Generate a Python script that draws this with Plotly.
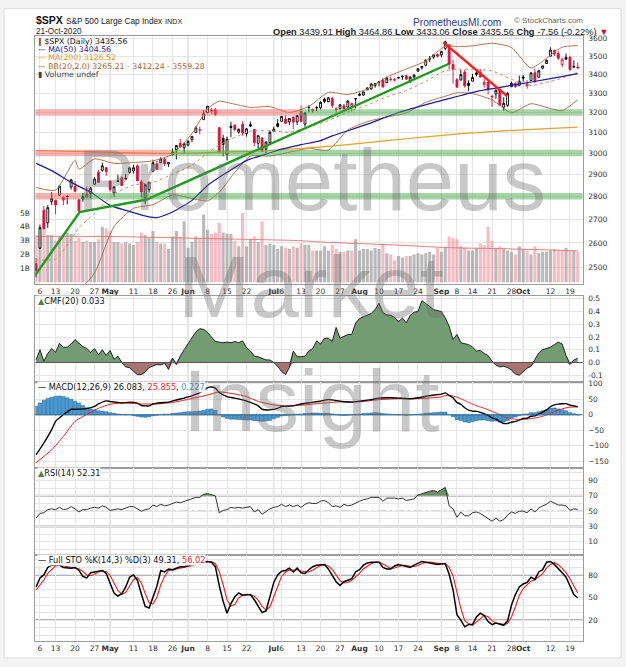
import datetime
import plotly.graph_objects as go

# ------------------------------------------------------------------ data
apr = [3, 6, 7, 8, 9, 13, 14, 15, 16, 17, 20, 21, 22, 23, 24, 27, 28, 29, 30]
may = [1, 4, 5, 6, 7, 8, 11, 12, 13, 14, 15, 18, 19, 20, 21, 22, 26, 27, 28, 29]
jun = [1, 2, 3, 4, 5, 8, 9, 10, 11, 12, 15, 16, 17, 18, 19, 22, 23, 24, 25, 26, 29, 30]
jul = [1, 2, 6, 7, 8, 9, 10, 13, 14, 15, 16, 17, 20, 21, 22, 23, 24, 27, 28, 29, 30, 31]
aug = [3, 4, 5, 6, 7, 10, 11, 12, 13, 14, 17, 18, 19, 20, 21, 24, 25, 26, 27, 28, 31]
sep = [1, 2, 3, 4, 8, 9, 10, 11, 14, 15, 16, 17, 18, 21, 22, 23, 24, 25, 28, 29, 30]
octo = [1, 2, 5, 6, 7, 8, 9, 12, 13, 14, 15, 16, 19, 20, 21]
dates = ([f"2020-04-{d:02d}" for d in apr] + [f"2020-05-{d:02d}" for d in may] +
         [f"2020-06-{d:02d}" for d in jun] + [f"2020-07-{d:02d}" for d in jul] +
         [f"2020-08-{d:02d}" for d in aug] + [f"2020-09-{d:02d}" for d in sep] +
         [f"2020-10-{d:02d}" for d in octo])

prev_close = 2526.90

opens = [2514.92, 2578.28, 2738.65, 2685.00, 2776.99, 2782.46, 2805.10, 2795.64, 2799.34, 2842.43, 2845.62, 2784.81, 2787.89, 2810.42, 2812.64, 2854.65, 2909.96, 2918.46, 2930.91,
         2869.09, 2815.01, 2868.88, 2883.14, 2878.26, 2908.83, 2915.46, 2939.50, 2865.86, 2794.54, 2829.95, 2913.86, 2948.59, 2953.63, 2969.95, 2948.05, 3004.08, 3015.65, 3046.61, 3025.17,
         3038.78, 3064.78, 3098.90, 3111.56, 3163.84, 3199.92, 3213.32, 3213.42, 3123.53, 3071.04, 2993.76, 3131.00, 3136.13, 3101.64, 3140.29, 3094.42, 3138.70, 3114.40, 3046.60, 3073.20, 3018.59, 3050.20,
         3105.92, 3143.64, 3155.29, 3166.44, 3153.07, 3176.17, 3152.47, 3205.08, 3141.11, 3225.98, 3208.36, 3224.21, 3224.29, 3268.52, 3254.86, 3271.64, 3218.58, 3219.84, 3234.27, 3227.22, 3231.76, 3270.45,
         3288.26, 3289.92, 3317.37, 3323.17, 3340.05, 3356.04, 3370.34, 3355.46, 3372.95, 3368.66, 3380.86, 3387.04, 3392.51, 3360.48, 3386.01, 3418.09, 3435.95, 3449.97, 3485.14, 3494.69, 3509.73,
         3507.44, 3543.76, 3564.74, 3453.60, 3371.88, 3369.82, 3412.56, 3352.70, 3363.56, 3407.73, 3411.23, 3346.86, 3357.38, 3285.57, 3295.75, 3320.11, 3226.14, 3236.66, 3333.90, 3350.92, 3341.21,
         3385.87, 3338.94, 3367.27, 3408.74, 3384.56, 3434.28, 3459.67, 3500.02, 3534.01, 3515.47, 3453.72, 3493.50, 3493.66, 3439.38, 3439.91]
highs = [2538.18, 2676.85, 2756.89, 2760.75, 2818.57, 2782.46, 2851.85, 2801.88, 2806.51, 2879.22, 2868.98, 2785.54, 2815.10, 2844.90, 2842.71, 2887.72, 2921.15, 2954.86, 2930.91,
         2869.09, 2844.24, 2898.23, 2891.11, 2901.92, 2932.16, 2944.25, 2945.82, 2874.14, 2852.80, 2865.01, 2968.09, 2964.21, 2980.29, 2978.50, 2956.76, 3021.72, 3036.25, 3068.67, 3049.17,
         3062.18, 3081.07, 3130.94, 3128.91, 3211.72, 3233.13, 3222.71, 3223.27, 3123.53, 3088.42, 3079.76, 3153.45, 3141.16, 3120.00, 3155.53, 3120.92, 3154.90, 3115.01, 3086.25, 3073.73, 3053.89, 3111.51,
         3128.44, 3165.81, 3182.59, 3184.15, 3171.80, 3179.78, 3186.82, 3235.32, 3200.95, 3238.28, 3220.39, 3233.52, 3258.61, 3277.29, 3279.32, 3279.99, 3227.26, 3241.43, 3243.72, 3264.74, 3250.92, 3272.17,
         3302.73, 3306.84, 3330.77, 3351.03, 3352.54, 3363.29, 3381.01, 3387.89, 3387.24, 3378.51, 3387.59, 3395.06, 3399.54, 3390.80, 3399.96, 3432.09, 3444.21, 3481.07, 3501.38, 3509.23, 3514.77,
         3528.03, 3588.11, 3564.85, 3479.15, 3379.97, 3424.77, 3425.55, 3368.95, 3402.93, 3419.48, 3428.92, 3375.17, 3362.27, 3285.57, 3320.31, 3323.35, 3278.70, 3306.88, 3360.74, 3357.92, 3393.56,
         3397.18, 3369.10, 3409.57, 3431.56, 3426.26, 3447.28, 3482.34, 3549.85, 3534.01, 3527.94, 3489.08, 3515.76, 3502.42, 3476.93, 3464.86]
lows = [2459.96, 2574.57, 2657.67, 2663.30, 2762.36, 2721.17, 2805.10, 2761.54, 2764.32, 2830.88, 2820.43, 2727.10, 2775.95, 2794.26, 2791.76, 2852.89, 2860.71, 2912.16, 2892.47,
        2821.61, 2797.85, 2863.55, 2847.65, 2876.48, 2902.88, 2903.44, 2869.59, 2793.15, 2766.64, 2816.78, 2913.86, 2922.35, 2953.63, 2938.57, 2933.59, 2988.17, 2969.75, 3023.40, 2998.61,
        3031.54, 3051.64, 3098.90, 3090.41, 3163.84, 3196.00, 3193.11, 3181.49, 2999.49, 2984.47, 2965.66, 3076.06, 3108.03, 3093.51, 3083.11, 3079.39, 3127.12, 3032.13, 3024.01, 3004.63, 2999.74, 3047.83,
        3101.17, 3124.52, 3155.29, 3142.93, 3136.53, 3115.70, 3136.22, 3149.43, 3127.66, 3200.76, 3198.59, 3205.65, 3215.16, 3247.77, 3253.10, 3222.66, 3200.05, 3214.25, 3216.17, 3227.22, 3204.13, 3220.26,
        3284.53, 3286.37, 3317.37, 3318.14, 3328.72, 3335.44, 3326.44, 3355.46, 3363.35, 3361.64, 3379.22, 3370.15, 3369.66, 3354.69, 3379.31, 3413.13, 3425.84, 3444.15, 3468.35, 3484.32, 3493.25,
        3494.60, 3535.23, 3427.41, 3349.63, 3329.27, 3366.84, 3329.25, 3310.47, 3363.56, 3389.25, 3384.45, 3328.82, 3292.40, 3229.10, 3270.95, 3232.57, 3209.45, 3228.44, 3332.91, 3327.54, 3340.47,
        3361.39, 3323.69, 3367.27, 3354.54, 3384.56, 3428.15, 3458.07, 3499.61, 3500.86, 3480.55, 3440.89, 3480.45, 3419.93, 3435.65, 3433.06]
closes = [2488.65, 2663.68, 2659.41, 2749.98, 2789.82, 2761.63, 2846.06, 2783.36, 2799.55, 2874.56, 2823.16, 2736.56, 2799.31, 2797.80, 2836.74, 2878.48, 2863.39, 2939.51, 2912.43,
          2830.71, 2842.74, 2868.44, 2848.42, 2881.19, 2929.80, 2930.32, 2870.12, 2820.00, 2852.50, 2863.70, 2953.91, 2922.94, 2971.61, 2948.51, 2955.45, 2991.77, 3036.13, 3029.73, 3044.31,
          3055.73, 3080.82, 3122.87, 3112.35, 3193.93, 3232.39, 3207.18, 3190.14, 3002.10, 3041.31, 3066.59, 3124.74, 3113.49, 3115.34, 3097.74, 3117.86, 3131.29, 3050.33, 3083.76, 3009.05, 3053.24, 3100.29,
          3115.86, 3130.01, 3179.72, 3145.32, 3169.94, 3152.05, 3185.04, 3155.22, 3197.52, 3226.56, 3215.57, 3224.73, 3251.84, 3257.30, 3276.02, 3235.66, 3215.63, 3239.41, 3218.44, 3258.44, 3246.22, 3271.12,
          3294.61, 3306.51, 3327.77, 3349.16, 3351.28, 3360.47, 3333.69, 3380.35, 3373.43, 3372.85, 3381.99, 3389.78, 3374.85, 3385.51, 3397.16, 3431.28, 3443.62, 3478.73, 3484.55, 3508.01, 3500.31,
          3526.65, 3580.84, 3455.06, 3426.96, 3331.84, 3398.96, 3339.19, 3340.97, 3383.54, 3401.20, 3385.49, 3357.01, 3319.47, 3281.06, 3315.57, 3236.92, 3246.59, 3298.46, 3351.60, 3335.47, 3363.00,
          3380.80, 3348.42, 3408.60, 3360.97, 3419.44, 3446.83, 3477.14, 3534.22, 3511.93, 3488.67, 3483.34, 3483.81, 3426.92, 3443.12, 3435.56]

# volume, billions
volume = [3.4, 3.3, 4.3, 3.4, 3.4, 3.0, 3.3, 3.3, 3.6, 3.5, 3.0, 3.2, 2.9, 3.0, 2.9, 2.9, 3.1, 4.0, 3.9, 3.7,
          2.9, 2.9, 2.8, 2.9, 2.8, 2.7, 2.9, 3.6, 3.4, 3.2, 3.7, 2.9, 2.8, 2.8, 2.4, 3.3, 3.7, 3.3, 4.4, 2.5,
          2.9, 3.3, 3.2, 4.9, 3.8, 3.5, 3.6, 4.3, 3.6, 3.5, 3.5, 3.0, 2.6, 5.0, 2.6, 3.1, 3.3, 2.9, 4.4, 2.7,
          2.8, 2.7, 2.4, 2.6, 2.5, 2.4, 2.6, 2.5, 2.8, 2.7, 2.7, 2.3, 2.3, 2.3, 2.6, 2.3, 2.7, 2.4, 2.2, 2.2,
          2.3, 2.3, 3.1, 2.3, 2.4, 2.4, 2.3, 2.5, 2.4, 2.7, 2.1, 2.0, 1.6, 1.9, 1.8, 1.9, 1.9, 2.0, 2.1, 2.0,
          2.1, 2.2, 2.0, 2.5, 2.2, 2.5, 3.3, 3.2, 3.1, 2.6, 2.5, 2.3, 2.3, 2.5, 2.8, 2.7, 4.0, 3.0, 2.5, 2.6,
          2.5, 2.3, 2.2, 2.0, 2.6, 2.4, 2.3, 2.0, 2.6, 2.1, 2.2, 2.2, 2.3, 2.4, 2.3, 2.3, 2.5, 2.3, 2.3, 2.2]
vma_days = [0, 20, 45, 68, 73, 93, 106, 119, 139]
vma_vals = [3.32, 3.30, 3.15, 3.00, 2.91, 2.68, 2.50, 2.43, 2.27]

ma50_days = [0, 4, 9, 14, 19, 23, 29, 31, 35, 40, 44, 49, 54, 59, 63, 68, 73, 76, 85, 93, 102, 109, 114, 123, 132, 139]
ma50_vals = [2951, 2917, 2863, 2819, 2760, 2738, 2710, 2707, 2731, 2782, 2849, 2909, 2964, 2995, 3019, 3040,
             3060, 3083, 3141, 3200, 3251, 3288, 3313, 3345, 3377, 3404.56]
ma200_days = [0, 20, 35, 50, 60, 70, 80, 90, 100, 110, 120, 130, 139]
ma200_vals = [3012, 3003, 2998, 3005, 3012, 3025, 3040, 3060, 3078, 3095, 3108, 3118, 3126.52]

bb_days = [0, 5, 10, 11, 15, 20, 25, 30, 35, 40, 44, 47, 50, 55, 60, 65, 70, 75, 80, 85, 90, 95, 100, 105, 108, 112, 117, 122, 127, 132, 135, 139]
bb_upper = [2840, 2828, 2965, 2924, 2972, 2951, 2955, 2963, 2994, 3095, 3219, 3258, 3247, 3226, 3230, 3200,
            3231, 3304, 3293, 3322, 3385, 3430, 3473, 3556, 3554, 3558, 3573, 3549, 3435, 3506, 3551, 3559.28]
bb_mid = [2531, 2534, 2639, 2664, 2725, 2810, 2851, 2863, 2900, 2943, 3000, 3038, 3067, 3106, 3108, 3102,
          3127, 3159, 3203, 3238, 3281, 3314, 3363, 3420, 3428, 3428, 3419, 3374, 3341, 3363, 3380, 3412.24]
bb_lower = [2222, 2240, 2313, 2404, 2478, 2668, 2747, 2763, 2806, 2791, 2780, 2818, 2887, 2986, 2986, 3004,
            3022, 3014, 3112, 3154, 3177, 3198, 3252, 3284, 3302, 3298, 3265, 3199, 3245, 3220, 3209, 3265.21]

# drawn annotations on the price panel
band_levels = [3200, 3000, 2800]
band_switch_day = [67.7, 34.4, 11.3]       # red segment up to here, green after
green_trend_days = [-0.8, 11.2, 28.4, 105.8]
green_trend_prices = [2457, 2731, 2786, 3457]
red_trend_days = [104.5, 120.8]
red_trend_prices = [3578, 3286]

cmf = [0.02, 0.10, 0.01, 0.07, 0.11, 0.08, 0.15, 0.12, 0.12, 0.145, 0.18, 0.15, 0.125, 0.11, 0.08, 0.11, 0.06, 0.10, 0.055, 0.095,
       0.025, 0.05, 0.0, -0.035, -0.04, -0.07, -0.095, -0.095, -0.075, -0.04, -0.025, -0.015, -0.02, -0.005, -0.055, 0.035, -0.015, 0.05, 0.10, 0.145,
       0.20, 0.24, 0.265, 0.26, 0.235, 0.20, 0.165, 0.16, 0.155, 0.16, 0.155, 0.165, 0.155, 0.17, 0.115, 0.09, 0.05, 0.045, 0.035, 0.02,
       0.02, 0.0, -0.03, -0.07, -0.095, -0.04, 0.09, 0.045, 0.045, 0.05, 0.09, 0.11, 0.17, 0.145, 0.19, 0.19, 0.165, 0.275, 0.19, 0.205,
       0.22, 0.22, 0.31, 0.345, 0.36, 0.375, 0.385, 0.415, 0.465, 0.39, 0.375, 0.37, 0.355, 0.32, 0.35, 0.31, 0.37, 0.395, 0.40, 0.485,
       0.465, 0.44, 0.415, 0.405, 0.40, 0.35, 0.285, 0.18, 0.22, 0.155, 0.145, 0.14, 0.12, 0.09, 0.095, 0.07, 0.055, 0.01, -0.02, -0.035,
       -0.03, -0.04, -0.06, -0.09, -0.10, -0.075, -0.045, -0.03, 0.02, 0.075, 0.10, 0.11, 0.12, 0.14, 0.16, 0.145, 0.055, -0.015, 0.02, 0.033]

macd_days = [0, 2, 4, 5, 7, 9, 10, 13, 15, 16, 18, 19, 21, 22, 24, 26, 27, 29, 30, 32, 34, 36, 38, 40, 43, 44, 45, 46, 47, 49,
             51, 53, 55, 57, 58, 60, 62, 63, 66, 68, 70, 73, 75, 78, 81, 83, 86, 88, 91, 93, 96, 98, 101, 104] + list(range(105, 140))
macd_vals = [-129, -91, -48, -21, 0, 18, 18, 20, 27, 35, 45, 43, 40, 38, 41, 38, 30, 29, 35, 39, 41, 48, 54, 61, 78, 88, 90, 86, 72, 59,
             54, 48, 40, 29, 18, 16, 21, 27, 29, 35, 39, 44, 49, 44, 41, 44, 49, 54, 55, 54, 52, 55, 62, 67,
             71, 63, 55, 40, 34, 23, 15, 12, 11, 8, 4, -2, -10, -14, -22, -28, -28, -24, -21, -17,
             -12, -11, -4.5, -3.4, 2, 9, 16, 26, 32, 34.5, 35.5, 36, 31.4, 28.7, 26.083]
signal_days = [0, 4, 7, 10, 14, 16, 19, 22, 27, 31, 35, 39, 44, 47, 51, 54, 57, 61, 64, 68, 73, 78, 83, 88, 93, 98, 104] + list(range(105, 140))
signal_vals = [-155, -113, -70, -21, 8, 21, 34, 38, 35, 35, 40, 50, 64, 74, 67, 59, 43, 32, 29, 31, 37, 42, 42, 49, 52, 52, 58,
               62, 62.2, 60.7, 56.6, 52, 46.3, 40, 34.4, 29.6, 25.3, 21.1, 16.4, 11.1, 6.1, 0.4, -5.3, -9.9, -12.7, -14.5, -15,
               -14.4, -13.7, -11.9, -10.2, -7.7, -4.5, -0.4, 4.9, 10.3, 15.2, 19.2, 22.6, 24.4, 25.2, 25.855]
macd_hist = [28, 38, 47, 53, 57, 60, 61, 59, 55, 50, 44, 38, 30, 23, 19, 16, 13, 12, 10, 7,
             5, 3, 1, 0, 1, -2, -5, -7, -8, -6, -3, -1, 1, 2, 2, 4, 6, 7, 9, 10,
             10, 11, 12, 14, 18, 19, 14, 0, -7, -12, -14, -14, -15, -16, -17, -17, -19, -20, -21, -20,
             -18, -13, -8, -4, -2, -1, 0, 2, 3, 4, 5, 6, 6, 5, 5, 5, 3, 1, -1, -2,
             -1, 0, 1, 2, 4, 5, 6, 7, 6, 4, 3, 2, 1, 0, 0, -1, 0, 1, 2, 3,
             5, 6, 7, 8, 9, 9, 1, -6, -16, -18, -23, -25, -22.5, -19, -17, -17, -19, -21, -20, -23,
             -23, -19, -11, -7, -2, 2, 3, 7, 7, 10, 13, 16, 21, 22, 19, 16, 13, 7, 3.5, 0.227]

rsi = [41, 47, 48, 52, 53, 52, 55, 52, 53, 56, 53, 49, 52, 52, 54, 55, 54, 57, 55, 51,
       52, 53, 52, 54, 56, 56, 53, 50, 52, 53, 58, 56, 59, 57, 58, 60, 62, 61, 63, 64,
       66, 68, 68, 72, 73, 71, 70, 48, 51, 52, 55, 54, 55, 54, 55, 56, 49, 52, 46, 50,
       53, 55, 56, 59, 56, 58, 56, 58, 55, 59, 61, 60, 60, 63, 64, 61, 56, 57, 55, 59,
       57, 58, 61, 63, 65, 66, 68, 68, 68, 63, 67, 67, 67, 66, 67, 64, 65, 66, 71, 73,
       75, 76, 77, 75, 78, 81, 57, 53, 42, 49, 44, 44, 48, 49, 47, 44, 40, 37, 41, 37,
       39, 45, 49, 47, 50, 50, 48, 53, 49, 54, 57, 59, 63, 60, 58, 58, 57, 51, 53, 52.31]

sto_k = [64, 76, 80, 90, 93, 93, 93, 90, 89, 89, 90, 86, 78, 76, 83, 84, 86, 86, 82, 70,
         56, 52, 55, 64, 77, 80, 73, 55, 38, 36, 50, 65, 86, 84, 88, 87, 89, 91, 91, 92,
         94, 96, 97, 98, 98, 97, 91, 66, 45, 29, 42, 51, 56, 53, 54, 54, 47, 38, 30, 32,
         50, 70, 80, 85, 86, 89, 84, 89, 83, 82, 87, 91, 93, 94, 94, 88, 80, 71, 66, 71,
         73, 75, 84, 87, 93, 96, 97, 97, 97, 90, 88, 88, 92, 94, 93, 91, 90, 93, 95, 98,
         97, 96, 95, 94, 95, 95, 81, 60, 27, 20, 11, 14, 14, 24, 29, 26, 18, 14, 16, 14,
         13, 19, 40, 54, 64, 68, 70, 77, 74, 84, 87, 97, 98, 94, 89, 83, 77, 65, 54, 49.31]
sto_d = [60, 67, 73.3, 82, 87.7, 92, 93, 92, 90.7, 89.3, 89.3, 88.3, 84.7, 80, 79, 81, 84.3, 85.3, 84.7, 79.3,
         69.3, 59.3, 54.3, 57, 65.3, 73.7, 76.7, 69.3, 55.3, 43, 41.3, 50.3, 67, 78.3, 86, 86.3, 88, 89, 90.3, 91.3,
         92.3, 94, 95.7, 97, 97.7, 97.7, 95.3, 84.7, 67.3, 46.7, 38.7, 40.7, 49.7, 53.3, 54.3, 53.7, 51.7, 46.3, 38.3, 33.3,
         37.3, 50.7, 66.7, 78.3, 83.7, 86.7, 86.3, 87.3, 85.3, 84.7, 84, 86.7, 90.3, 92.7, 93.7, 92, 87.3, 79.7, 72.3, 69.3,
         70, 73, 77.3, 82, 88, 92, 95.3, 96.7, 97, 94.7, 91.7, 88.7, 89.3, 91.3, 93, 92.7, 91.3, 91.3, 92.7, 95.3,
         96.7, 97, 96, 95, 94.7, 94.7, 90.3, 78.7, 56, 35.7, 19.3, 15, 13, 17.3, 22.3, 26.3, 24.3, 19.3, 16, 14.7,
         14.3, 15.3, 24, 37.7, 52.7, 62, 67.3, 71.7, 73.7, 78.3, 81.7, 89.3, 94, 96.3, 93.7, 88.7, 83, 75, 65.3, 56.02]

tick_dates = ["2020-04-06", "2020-04-13", "2020-04-20", "2020-04-27", "2020-05-01", "2020-05-11", "2020-05-18",
              "2020-05-26", "2020-06-01", "2020-06-08", "2020-06-15", "2020-06-22", "2020-07-01", "2020-07-06",
              "2020-07-13", "2020-07-20", "2020-07-27", "2020-08-03", "2020-08-10", "2020-08-17", "2020-08-24",
              "2020-09-01", "2020-09-08", "2020-09-14", "2020-09-21", "2020-09-28", "2020-10-01", "2020-10-12",
              "2020-10-19"]
tick_labels = ["6", "13", "20", "27", "<b>May</b>", "11", "18", "26", "<b>Jun</b>", "8", "15", "22", "<b>Jul</b>", "6",
               "13", "20", "27", "<b>Aug</b>", "10", "17", "24", "<b>Sep</b>", "8", "14", "21", "28", "<b>Oct</b>", "12", "19"]
month_starts = ["2020-05-01", "2020-06-01", "2020-07-01", "2020-08-03", "2020-09-01", "2020-10-01"]

price_ticks = [2500, 2600, 2700, 2800, 2900, 3000, 3100, 3200, 3300, 3400, 3500, 3600]
vol_ticks = [1, 2, 3, 4, 5]

# ------------------------------------------------------------------ style
W, H = 626, 667
FONT = "DejaVu Sans"
HFONT = "Liberation Sans"
RED = "#d6123c"
GRID = "#e6e6e6"
MGRID = "#c6c6c6"
BORDER = "#9c9c9c"


def px(x):
    return x / W


def py(y):
    return 1 - y / H


idx = list(range(len(dates)))
pos = {d: i for i, d in enumerate(dates)}
tick_pos = [pos[d] for d in tick_dates]
prev = [prev_close] + closes[:-1]
is_up = [c >= p for c, p in zip(closes, prev)]

fig = go.Figure()

# volume (base axis of price panel)
fig.add_trace(go.Bar(x=idx, y=volume, width=0.8,
                     marker=dict(color=["rgba(150,150,150,0.66)" if u else "rgba(240,145,158,0.62)" for u in is_up],
                                 line=dict(width=0)),
                     xaxis="x", yaxis="y", hoverinfo="skip", showlegend=False))
fig.add_trace(go.Scatter(x=vma_days, y=vma_vals, mode="lines", line=dict(color="#f07070", width=0.9, shape="spline"),
                         xaxis="x", yaxis="y", hoverinfo="skip", showlegend=False))

# candles
for flag, col in ((True, "#000000"), (False, RED)):
    ids = [i for i in idx if is_up[i] == flag]
    fig.add_trace(go.Candlestick(
        x=ids, open=[opens[i] for i in ids], high=[highs[i] for i in ids],
        low=[lows[i] for i in ids], close=[closes[i] for i in ids],
        increasing=dict(line=dict(color=col, width=0.9), fillcolor="white"),
        decreasing=dict(line=dict(color=col, width=0.9), fillcolor=col),
        whiskerwidth=0, xaxis="x", yaxis="y2", hoverinfo="skip", showlegend=False))

# overlays
for dd, vv, c, w, dash in ((bb_days, bb_upper, "#b3734f", 1.0, "solid"),
                           (bb_days, bb_lower, "#b3734f", 1.0, "solid"),
                           (bb_days, bb_mid, "#c98e67", 1.0, "dot"),
                           (ma200_days, ma200_vals, "#e3a42a", 1.2, "solid"),
                           (ma50_days, ma50_vals, "#1c1ca0", 1.2, "solid")):
    fig.add_trace(go.Scatter(x=dd, y=vv, mode="lines", line=dict(color=c, width=w, dash=dash, shape="spline", smoothing=0.6),
                             xaxis="x", yaxis="y2", hoverinfo="skip", showlegend=False))

fig.add_trace(go.Scatter(x=green_trend_days, y=green_trend_prices, mode="lines", line=dict(color="#1e9a1e", width=2.4),
                         xaxis="x", yaxis="y2", hoverinfo="skip", showlegend=False))
fig.add_trace(go.Scatter(x=red_trend_days, y=red_trend_prices, mode="lines", line=dict(color="#ff1a1a", width=2.4),
                         xaxis="x", yaxis="y2", hoverinfo="skip", showlegend=False))

# CMF
fig.add_trace(go.Scatter(x=idx, y=[max(v, 0) for v in cmf], mode="lines", line=dict(width=0), fill="tozeroy",
                         fillcolor="#739c72", xaxis="x2", yaxis="y3", hoverinfo="skip", showlegend=False))
fig.add_trace(go.Scatter(x=idx, y=[min(v, 0) for v in cmf], mode="lines", line=dict(width=0), fill="tozeroy",
                         fillcolor="#a87472", xaxis="x2", yaxis="y3", hoverinfo="skip", showlegend=False))
fig.add_trace(go.Scatter(x=idx, y=cmf, mode="lines", line=dict(color="#222", width=1),
                         xaxis="x2", yaxis="y3", hoverinfo="skip", showlegend=False))

# MACD
fig.add_trace(go.Bar(x=idx, y=macd_hist, width=0.9, marker=dict(color="#4a9ad0", line=dict(color="#24618e", width=0.5)),
                     xaxis="x3", yaxis="y4", hoverinfo="skip", showlegend=False))
fig.add_trace(go.Scatter(x=signal_days, y=signal_vals, mode="lines", line=dict(color="#f21d1d", width=1, shape="spline", smoothing=0.5),
                         xaxis="x3", yaxis="y4", hoverinfo="skip", showlegend=False))
fig.add_trace(go.Scatter(x=macd_days, y=macd_vals, mode="lines", line=dict(color="#000", width=1.4, shape="spline", smoothing=0.5),
                         xaxis="x3", yaxis="y4", hoverinfo="skip", showlegend=False))

# RSI
fig.add_trace(go.Scatter(x=[idx[0], idx[-1]], y=[70, 70], mode="lines", line=dict(width=0),
                         xaxis="x4", yaxis="y5", hoverinfo="skip", showlegend=False))
fig.add_trace(go.Scatter(x=idx, y=[max(v, 70) for v in rsi], mode="lines", line=dict(width=0), fill="tonexty",
                         fillcolor="#6a8f62", xaxis="x4", yaxis="y5", hoverinfo="skip", showlegend=False))
fig.add_trace(go.Scatter(x=idx, y=rsi, mode="lines", line=dict(color="#333", width=1),
                         xaxis="x4", yaxis="y5", hoverinfo="skip", showlegend=False))

# Full STO
fig.add_trace(go.Scatter(x=idx, y=sto_d, mode="lines", line=dict(color="#f21d1d", width=1.1),
                         xaxis="x5", yaxis="y6", hoverinfo="skip", showlegend=False))
fig.add_trace(go.Scatter(x=idx, y=sto_k, mode="lines", line=dict(color="#000", width=1.5),
                         xaxis="x5", yaxis="y6", hoverinfo="skip", showlegend=False))

# ------------------------------------------------------------------ layout
XR = [-0.2, 140.27]
XD = [px(35.3), px(582.7)]
tickfont = dict(family=FONT, size=7.5, color="#333")


def xax(anchor, labels):
    return dict(domain=XD, range=XR, anchor=anchor, tickvals=tick_pos, ticktext=tick_labels,
                showticklabels=labels, showgrid=True, gridcolor=GRID, gridwidth=1, zeroline=False,
                showline=True, linecolor=BORDER, linewidth=1, mirror=True, ticks="", tickfont=tickfont,
                tickangle=0, fixedrange=True)


def yax(dom, rng, vals, text=None, anchor="x2"):
    d = dict(domain=dom, range=rng, anchor=anchor, side="right", tickvals=vals, showgrid=True, gridcolor=GRID,
             zeroline=False, showline=True, linecolor=BORDER, linewidth=1, mirror=True, ticks="outside",
             ticklen=3, tickcolor="rgba(0,0,0,0)", tickfont=tickfont, fixedrange=True)
    if text is not None:
        d["ticktext"] = text
    return d


D_PRICE = [py(282), py(33.3)]
D_CMF = [py(380.7), py(294.3)]
D_MACD = [py(467.5), py(380.7)]
D_RSI = [py(554.3), py(467.5)]
D_STO = [py(641), py(554.3)]

rsi_vals = list(range(0, 101, 10))
sto_vals = list(range(0, 101, 10))

layout = dict(
    width=W, height=H, autosize=False, margin=dict(l=0, r=0, t=0, b=0),
    paper_bgcolor="#f3f3f3", plot_bgcolor="white", showlegend=False, hovermode=False,
    xaxis=dict(xax("y", True), rangeslider=dict(visible=False)),
    xaxis2=dict(xax("y3", False), matches="x"),
    xaxis3=dict(xax("y4", False), matches="x"),
    xaxis4=dict(xax("y5", False), matches="x"),
    xaxis5=dict(xax("y6", True), matches="x"),
    yaxis=dict(domain=D_PRICE, range=[-0.1, 17.75], anchor="x", side="left", tickvals=vol_ticks,
               ticktext=[f"{v}B" for v in vol_ticks], showgrid=False, zeroline=False, showline=True,
               linecolor=BORDER, mirror=True, ticks="outside", ticklen=3, tickcolor="rgba(0,0,0,0)",
               tickfont=tickfont, fixedrange=True),
    yaxis2=dict(overlaying="y", anchor="x", side="right", type="log", range=[3.38672, 3.55795],
                tickvals=price_ticks, ticktext=[str(v) for v in price_ticks], showgrid=True, gridcolor=GRID,
                zeroline=False, showline=False, ticks="outside", ticklen=3, tickcolor="rgba(0,0,0,0)",
                tickfont=tickfont, fixedrange=True),
    yaxis3=yax(D_CMF, [-0.153, 0.522], [-0.1, 0, 0.1, 0.2, 0.3, 0.4, 0.5],
               ["-0.1", "0.0", "0.1", "0.2", "0.3", "0.4", "0.5"], "x2"),
    yaxis4=yax(D_MACD, [-173, 106], [-150, -100, -50, 0, 50, 100], None, "x3"),
    yaxis5=yax(D_RSI, [-6.9, 105.8], rsi_vals, [str(v) if v in (10, 30, 50, 70, 90) else "" for v in rsi_vals], "x4"),
    yaxis6=yax(D_STO, [-8, 106.8], sto_vals, [str(v) if v in (20, 50, 80) else "" for v in sto_vals], "x5"),
)
fig.update_layout(**layout)

shapes = [dict(type="rect", xref="paper", yref="paper", x0=px(4), x1=px(621), y0=py(658), y1=py(5.5),
               fillcolor="white", line=dict(color="#dcdcdc", width=1), layer="below")]
for xr, yr in (("x", "y domain"), ("x2", "y3 domain"), ("x3", "y4 domain"), ("x4", "y5 domain"), ("x5", "y6 domain")):
    for m in month_starts:
        shapes.append(dict(type="line", xref=xr, yref=yr, x0=pos[m], x1=pos[m], y0=0, y1=1,
                           line=dict(color=MGRID, width=1), layer="below"))
for lvl, sw in zip(band_levels, band_switch_day):
    shapes.append(dict(type="line", xref="x", yref="y2", x0=XR[0], x1=sw, y0=lvl, y1=lvl,
                       line=dict(color="rgba(240,95,95,0.48)", width=6.5), layer="above"))
    shapes.append(dict(type="line", xref="x", yref="y2", x0=sw, x1=XR[1], y0=lvl, y1=lvl,
                       line=dict(color="rgba(70,165,70,0.48)", width=6.5), layer="above"))
shapes.append(dict(type="line", xref="x2 domain", yref="y3", x0=0, x1=1, y0=0, y1=0, line=dict(color="#555", width=1)))
shapes.append(dict(type="line", xref="x3 domain", yref="y4", x0=0, x1=1, y0=0, y1=0, line=dict(color="#2f6f9c", width=1)))
for v in (30, 70):
    shapes.append(dict(type="line", xref="x4 domain", yref="y5", x0=0, x1=1, y0=v, y1=v,
                       line=dict(color="#b4b4b4", width=2), layer="below"))
shapes.append(dict(type="line", xref="x4 domain", yref="y5", x0=0, x1=1, y0=50, y1=50,
                   line=dict(color="#888", width=1, dash="dashdot"), layer="below"))
for v in (20, 80):
    shapes.append(dict(type="line", xref="x5 domain", yref="y6", x0=0, x1=1, y0=v, y1=v,
                       line=dict(color="#b4b4b4", width=2), layer="below"))
shapes.append(dict(type="line", xref="x5 domain", yref="y6", x0=0, x1=1, y0=50, y1=50,
                   line=dict(color="#888", width=1, dash="dashdot"), layer="below"))
fig.update_layout(shapes=shapes)

chg = closes[-1] - closes[-2]
pct = chg / closes[-2] * 100
last_day = datetime.date.fromisoformat(dates[-1]).strftime("%d-%b-%Y")
ohlc_text = (f"<b>Open</b> {opens[-1]:.2f} <b>High</b> {highs[-1]:.2f} <b>Low</b> {lows[-1]:.2f} "
             f"<b>Close</b> {closes[-1]:.2f} <b>Chg</b> {chg:.2f} ({pct:.2f}%) <span style='color:#c8102e'>▼</span>")


def ann(text, x, y, size, color="#111", family=FONT, xanchor="left", bg=None):
    d = dict(text=text, x=px(x), y=py(y), xref="paper", yref="paper", xanchor=xanchor, yanchor="middle",
             showarrow=False, font=dict(family=family, size=size, color=color), borderpad=0)
    if bg:
        d["bgcolor"] = bg
    return d


LEG = 7.8
annotations = [
    ann("<b>$SPX</b>", 34.5, 17.5, 10.5, "#111", HFONT),
    ann("S&amp;P 500 Large Cap Index", 64.5, 18, 8.3, "#222", HFONT),
    ann("INDX", 163.5, 18.5, 7.2, "#222", HFONT),
    ann(last_day, 35, 28.5, 8.2, "#222", HFONT),
    ann(ohlc_text, 609, 28.8, 9.3, "#222", HFONT, "right"),
    ann("PrometheusMI.com", 457, 19.5, 10.2, "#2e3b8e", HFONT, "center"),
    ann("© StockCharts.com", 513, 18, 8, "#666", HFONT),
    # price legend
    ann(f"‖ $SPX (Daily) {closes[-1]:.2f}", 36.5, 38.5, LEG, "#111"),
    ann(f"— MA(50) {ma50_vals[-1]:.2f}", 36.5, 46.8, LEG, "#1c1ca0"),
    ann(f"— MA(200) {ma200_vals[-1]:.2f}", 36.5, 55.1, LEG, "#d99a1e"),
    ann(f"— BB(20,2.0) {bb_lower[-1]:.2f} - {bb_mid[-1]:.2f} - {bb_upper[-1]:.2f}", 36.5, 63.4, LEG, "#b0622f"),
    ann("▮ Volume undef", 36.5, 71.7, LEG, "#444"),
    # indicator legends
    ann(f"<span style='color:#4f804f'>▲</span>CMF(20) {cmf[-1]:.3f}", 37, 299, 8.2, "#111", bg="white"),
    ann(f"— MACD(12,26,9) {macd_vals[-1]:.3f}, <span style='color:#f21d1d'>{signal_vals[-1]:.3f}</span>, "
        f"<span style='color:#3d9ad6'>{macd_hist[-1]:.3f}</span>", 37, 385.5, 8.2, "#111", bg="white"),
    ann(f"<span style='color:#4f804f'>▲</span>RSI(14) {rsi[-1]:.2f}", 37, 472.5, 8.2, "#111", bg="white"),
    ann(f"— Full STO %K(14,3) %D(3) {sto_k[-1]:.2f}, <span style='color:#f21d1d'>{sto_d[-1]:.2f}</span>",
        37, 559.5, 8.2, "#111", bg="white"),
]
wm = "rgba(110,110,110,0.38)"
for word, yy in (("Prometheus", 177), ("Market", 285), ("Insight", 399)):
    annotations.append(dict(text=word, x=px(311), y=py(yy), xref="paper", yref="paper", xanchor="center",
                            yanchor="middle", showarrow=False, font=dict(family=HFONT, size=87, color=wm)))
fig.update_layout(annotations=annotations)

fig.write_html("out.html", config={"displayModeBar": False},
               post_script="document.body.style.margin='0';")
